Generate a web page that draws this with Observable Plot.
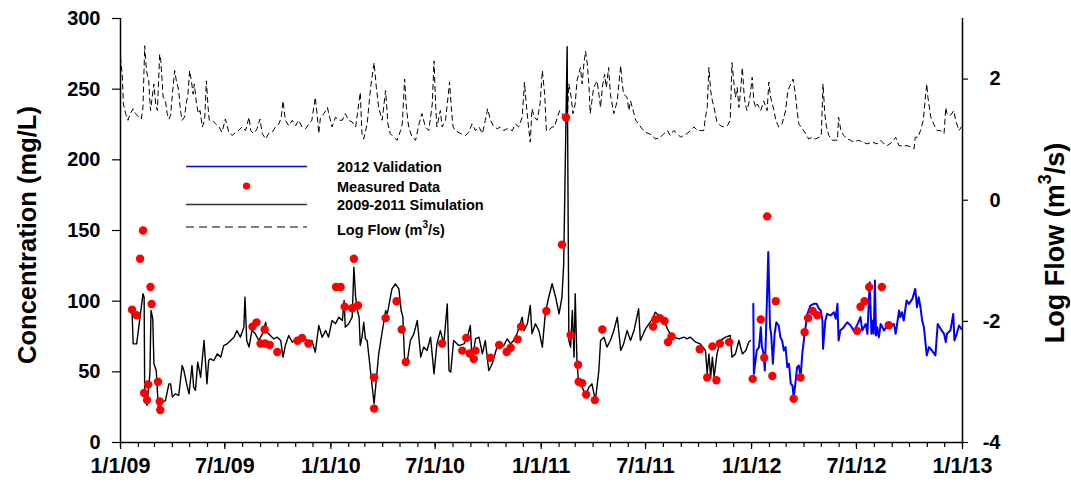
<!DOCTYPE html>
<html>
<head>
<meta charset="utf-8">
<script src="https://cdn.jsdelivr.net/npm/d3@7"></script>
<script src="https://cdn.jsdelivr.net/npm/@observablehq/plot@0.6"></script>
<style>
  html, body { margin: 0; padding: 0; background: #fff; }
  #chart { width: 1071px; height: 489px; }
</style>
</head>
<body>
<div id="chart"></div>
<script>
// Days are counted from 1/1/09.
// 2009-2011 simulated concentration (mg/L)
const simDays = [20,22,28,39,41,42,46,51,53,56,58,62,66,72,78,84,87,90,95,101,107,110,116,119,124,127,130,134,139,145,150,153,156,162,168,174,179,185,191,197,202,208,214,216,219,223,228,234,237,240,246,252,254,260,266,272,278,282,286,292,298,304,309,315,321,327,332,338,344,350,356,361,367,373,379,385,388,390,396,402,405,408,411,414,416,419,422,425,428,440,448,460,463,471,477,483,487,490,493,497,
  503,509,515,521,526,532,538,544,549,555,561,567,570,573,578,587,596,602,607,610,616,622,628,633,639,645,654,659,665,671,677,682,688,697,700,706,711,714,720,726,732,737,743,749,755,761,766,769,775,778,781,784,787,789,792,795,801,807,813,818,824,830,833,839,844,850,856,862,868,873,879,885,891,899,902,911,917,923,928,934,943,949,954,960,969,
  978,983,989,998,1006,1015,1018,1021,1024,1027,1030,1035,1041,1050,1058,1061,1067,1073,1079,1085,1090,1093];
const simConc = [93.4,69.8,69.8,105.2,102.8,34.4,26.2,48.6,93.4,87.5,55.7,50.9,22.6,28.5,29.7,41.5,41.5,32.1,34.4,33.3,54.5,50.9,39.2,34.4,54.5,39.2,36.8,56.8,46.2,72.2,41.5,58.0,59.2,58.0,62.7,60.4,68.6,69.8,72.2,74.5,79.2,74.5,81.6,102.8,72.2,67.5,79.2,76.9,74.5,72.2,76.9,85.1,78.1,75.7,73.3,74.5,72.2,60.4,68.6,75.7,71.0,73.3,74.5,74.5,73.3,71.0,72.2,63.9,82.8,74.5,79.2,74.5,86.3,84.0,88.7,86.3,100.5,81.6,84.0,88.7,124.1,102.8,93.4,88.7,68.6,74.5,85.1,73.3,72.2,27.4,62.7,93.4,91.0,108.7,112.3,108.7,93.4,88.7,58.0,55.7,
  72.2,76.9,86.3,60.4,67.5,65.1,74.5,48.6,69.8,79.2,69.8,98.1,50.9,49.8,72.2,68.6,69.8,74.5,82.8,58.0,73.3,74.5,62.7,72.2,50.9,55.7,68.6,67.5,68.6,73.3,69.8,72.2,76.9,88.7,79.2,84.0,96.9,76.9,84.0,79.2,67.5,91.0,102.8,112.3,102.8,91.0,102.8,126.4,280,72.2,67.5,93.4,60.4,105.2,58.0,41.5,39.2,33.3,39.2,41.5,29.7,50.9,72.2,74.5,67.5,72.2,79.2,88.7,65.1,69.8,79.2,72.2,79.2,94.6,72.2,80.4,84.0,87.5,92.2,89.9,86.3,80.4,76.9,74.5,73.3,
  74.5,73.4,74.5,71.0,69.8,65.1,48.6,62.7,46.2,60.4,46.2,62.7,72.2,74.5,75.7,60.4,62.7,72.2,62.7,65.1,71.0,72.2];

// 2012 validation run (mg/L)
const valDays = [1098,1099,1104,1108,1111,1113,1116,1118,1120,1124,1127,1129,1132,1135,1138,1142,1145,1148,1151,1154,1157,1160,1163,1166,1168,1171,1174,1177,1180,1183,1187,1192,1197,1203,1208,1212,1215,1218,1219,1223,1226,1232,1238,1241,1244,1246,1249,1255,1261,1267,1272,1278,1284,1287,1293,1296,1300,1303,1304,1307,1309,1311,1313,1316,1319,1325,1330,1336,1342,1345,1351,1353,1356,1359,1364,1368,1374,1379,1382,1385,1388,1391,1394,1399,1403,1408,1414,1418,1423,1429,1432,1434,1440,1445,1447,1451,1455,1459];
const valConc = [98.1,48.6,65.1,67.5,81.6,67.5,62.7,50.9,76.9,134.7,81.6,76.9,55.7,76.9,85.1,82.8,74.5,72.2,65.1,67.5,53.3,55.7,41.5,40.3,32.1,41.5,53.3,54.5,46.2,62.7,76.9,91.0,96.9,98.1,98.1,94.6,93.4,86.3,66.3,86.3,91.0,89.9,92.2,87.5,98.1,72.2,79.2,81.6,85.1,82.8,79.2,82.8,88.7,79.2,83.9,76.9,113.4,76.9,86.3,76.9,114.6,75.7,81.6,74.5,83.9,79.2,82.8,81.6,83.9,76.9,93.4,88.7,92.2,86.3,100.5,98.1,101.6,108.7,95.7,102.8,95.7,86.3,81.6,61.6,67.5,65.1,61.6,83.9,80.4,76.9,71.0,76.9,79.2,91.0,72.2,76.9,82.8,80.4];

// Measured concentrations (mg/L)
const obsDays = [20,28,34,39,52,54,41,48,46,65,68,69,229,236,250,243,251,259,272,307,315,326,374,382,389,402,412,405,440,440,460,479,488,495,558,600,593,606,616,613,642,657,670,677,689,695,739,766,773,781,794,795,801,808,823,836,924,928,936,944,950,956,1005,1018,1027,1034,1040,1056,1097,1111,1117,1122,1137,1131,1168,1180,1187,1193,1201,1209,1278,1284,1291,1299,1321,1333];
const obsConc = [94,90,130,150,110,98,35,41,30,43,29,23,82,85,80,70,70,69,64,72,74,70,110,110,96,95,97,130,46,24,88,100,80,57,70,74,65,63,65,59,60,69,64,67,73,82,93,140,230,76,55,43,42,34,30,80,82,87,88,86,71,75,66,46,68,44,70,71,45,87,60,160,100,47,31,46,78,88,93,90,79,96,100,110,110,83];

// Log flow (log10 m3/s)
const flowDays = [0,3,5,9,13,17,22,26,32,36,39,42,45,49,52,55,58,61,64,68,70,74,78,81,84,87,90,94,97,101,104,107,111,114,117,120,123,126,128,132,135,138,142,146,149,152,154,159,165,171,176,182,188,194,200,205,211,217,223,226,231,237,242,246,252,257,263,269,275,279,282,286,292,298,304,309,315,321,327,332,338,341,344,347,353,359,363,367,373,379,385,390,396,402,408,416,419,422,428,434,440,444,448,454,460,464,468,474,480,486,489,493,496,
  500,506,512,518,523,529,535,541,544,547,549,555,558,564,571,574,577,581,590,599,604,610,616,622,628,633,637,642,648,654,659,665,671,680,685,691,697,701,704,708,711,714,718,723,728,732,736,739,743,749,753,758,762,766,770,775,778,782,785,789,792,795,798,801,804,807,810,813,815,818,821,827,830,833,836,840,843,847,850,856,862,865,868,870,873,879,882,885,888,891,894,899,905,911,917,923,928,937,943,949,954,960,966,972,977,983,989,995,1001,1006,
  1012,1015,1018,1021,1024,1027,1030,1032,1035,1041,1047,1053,1058,1061,1064,1067,1070,1073,1076,1079,1082,1084,1087,1090,1093,1096,1099,1102,1105,1111,1116,1122,1125,1128,1131,1134,1137,1142,1148,1154,1158,1163,1167,1171,1174,1177,1183,1189,1194,1200,1206,1212,1216,1219,1222,1225,1229,1235,1244,1246,1250,1255,1261,1267,1272,1281,1287,1296,1304,1313,1319,1325,1330,1339,1345,1351,1356,1365,1371,1377,1379,1384,1388,1393,1396,1399,1401,1406,1411,1417,1423,1429,1432,1434,1440,1446,1449,1455,1459];
const flowLog = [2.36,2.08,1.59,1.43,1.32,1.43,1.51,1.43,1.37,1.34,1.53,2.55,2.14,1.97,1.48,1.70,1.92,1.59,1.48,2.41,2.30,1.70,1.64,1.43,1.34,1.40,1.75,2.14,1.97,1.81,1.48,1.32,1.37,1.59,1.75,2.14,1.97,1.75,1.92,1.59,1.43,1.48,1.21,1.32,1.97,1.53,1.32,1.32,1.26,1.21,1.12,1.34,1.12,1.07,1.12,1.15,1.21,1.15,1.37,1.15,1.10,1.18,1.34,1.10,1.01,1.10,1.12,1.21,1.26,1.37,1.64,1.32,1.23,1.32,1.23,1.32,1.21,1.18,1.26,1.32,1.70,1.43,1.10,1.37,1.43,1.53,1.37,1.21,1.37,1.32,1.32,1.43,1.32,1.29,1.21,1.78,1.10,1.01,1.26,1.86,2.27,1.86,1.53,1.32,1.81,1.26,1.10,1.04,0.99,1.15,1.26,2.00,1.53,
  1.21,1.04,0.99,1.26,1.43,1.21,1.15,1.59,2.30,1.53,1.21,1.48,1.21,1.32,1.95,1.53,1.21,1.15,1.10,1.07,1.12,1.26,1.15,1.21,1.10,1.32,1.51,1.32,1.21,1.18,1.21,1.15,1.18,1.15,1.26,1.21,1.37,1.95,1.59,1.21,0.96,1.51,1.37,1.32,1.59,2.14,1.75,1.15,1.15,1.21,1.21,1.37,1.48,1.43,1.37,1.32,1.92,1.70,1.43,1.59,1.97,2.08,2.19,1.92,2.25,2.46,2.25,1.86,1.43,1.64,1.86,1.97,1.75,1.53,1.86,2.08,1.86,2.19,1.75,1.43,1.64,1.95,2.22,1.97,1.75,1.70,1.48,1.64,1.53,1.43,1.32,1.26,1.18,1.12,1.10,1.07,1.01,1.04,1.10,1.15,1.07,1.15,1.10,1.04,1.07,1.10,1.15,1.21,1.15,1.15,
  1.15,1.37,1.53,2.19,1.81,1.64,1.53,1.43,1.29,1.23,1.21,1.23,1.32,2.27,1.97,1.70,1.86,1.53,1.81,2.19,1.75,1.59,1.48,1.59,1.75,2.03,1.64,1.53,1.59,1.48,1.64,1.48,1.95,1.70,1.59,1.48,1.32,1.21,1.26,1.48,1.81,1.92,2.00,1.75,1.48,1.26,1.18,1.10,1.01,1.04,1.01,1.04,1.07,1.92,1.43,1.21,1.07,0.99,0.99,1.37,1.15,1.07,1.01,0.99,0.96,0.99,0.96,0.93,0.96,0.93,0.99,0.93,0.90,0.96,1.04,0.90,0.90,0.90,0.88,0.85,1.04,1.04,1.15,1.32,1.64,1.92,1.70,1.37,1.26,1.15,1.15,1.10,1.53,1.43,1.40,1.48,1.32,1.15,1.21];

// Axis settings
const concTicks = [0, 50, 100, 150, 200, 250, 300];
const flowTicks = [-4, -2, 0, 2];
const concDomain = [0, 300];
const flowDomain = [-4, 3];
const xLabelFormat = "%-m/%-d/%y";

const start = new Date(Date.UTC(2009, 0, 1));
const end = new Date(Date.UTC(2013, 0, 1));
const toDate = d => d3.utcDay.offset(start, d);

const sim = simDays.map((d, i) => ({date: toDate(d), conc: simConc[i]}));
const val = valDays.map((d, i) => ({date: toDate(d), conc: valConc[i]}));
const obs = obsDays.map((d, i) => ({date: toDate(d), conc: obsConc[i]}));
const flow = flowDays.map((d, i) => ({date: toDate(d), logq: flowLog[i]}));

// Map log flow onto the concentration axis (right axis shares the plot height)
const flowToConc = f => concDomain[0] + (f - flowDomain[0]) * (concDomain[1] - concDomain[0]) / (flowDomain[1] - flowDomain[0]);
const concToFlow = c => flowDomain[0] + (c - concDomain[0]) * (flowDomain[1] - flowDomain[0]) / (concDomain[1] - concDomain[0]);

const majorTicks = d3.utcMonth.every(6).range(start, d3.utcDay.offset(end, 1));
const minorTicks = d3.utcMonth.range(start, d3.utcDay.offset(end, 1));

const FONT = "'Liberation Sans', Arial, Helvetica, sans-serif";

const plot = Plot.plot({
  width: 1071,
  height: 489,
  marginLeft: 120,
  marginRight: 109,
  marginTop: 18,
  marginBottom: 47,
  style: {fontFamily: FONT, fontWeight: "bold", color: "black", background: "white", overflow: "visible"},
  x: {type: "utc", domain: [start, end]},
  y: {domain: concDomain},
  marks: [
    Plot.axisX(minorTicks, {tickSize: 5, tickFormat: () => "", strokeWidth: 1.2}),
    Plot.axisX(majorTicks, {tickSize: 7, tickPadding: 8, tickFormat: d3.utcFormat(xLabelFormat), fontSize: 21.5, strokeWidth: 1.2}),
    Plot.axisY(concTicks, {anchor: "left", tickSize: 8, tickPadding: 12, fontSize: 20, label: null, strokeWidth: 1.2}),
    Plot.axisY(flowTicks.map(flowToConc), {anchor: "right", tickSize: 5, tickPadding: 33, textAnchor: "end", fontSize: 20, label: null,
      tickFormat: c => String(Math.round(concToFlow(c))), strokeWidth: 1.2}),
    Plot.ruleX([start], {stroke: "black", strokeWidth: 1.5}),
    Plot.ruleX([end], {stroke: "black", strokeWidth: 1.5}),
    Plot.ruleY([concDomain[0]], {stroke: "black", strokeWidth: 1.5}),
    Plot.line(flow, {x: "date", y: d => flowToConc(d.logq), stroke: "black", strokeWidth: 1, strokeDasharray: "5,4"}),
    Plot.line(sim, {x: "date", y: "conc", stroke: "black", strokeWidth: 1.4}),
    Plot.line(val, {x: "date", y: "conc", stroke: "#0000ff", strokeWidth: 2}),
    Plot.dot(obs, {x: "date", y: "conc", r: 4.2, fill: "#ff0000", stroke: "none"})
  ]
});

document.getElementById("chart").appendChild(plot);

// Axis titles and in-plot legend
const svg = d3.select(plot);

svg.append("text")
  .attr("transform", "translate(27,235) rotate(-90)")
  .attr("text-anchor", "middle")
  .attr("dominant-baseline", "central")
  .style("font-size", "25.5px").style("font-weight", "bold").style("font-family", FONT)
  .text("Concentration (mg/L)");

const flowTitle = svg.append("text")
  .attr("transform", "translate(1055,243) rotate(-90)")
  .attr("text-anchor", "middle")
  .attr("dominant-baseline", "central")
  .style("font-size", "27px").style("font-weight", "bold").style("font-family", FONT);
flowTitle.append("tspan").text("Log Flow (m");
flowTitle.append("tspan").attr("baseline-shift", "super").style("font-size", "18px").text("3");
flowTitle.append("tspan").text("/s)");

const legend = svg.append("g")
  .attr("text-anchor", "start")
  .style("font-size", "14.5px").style("font-weight", "bold").style("font-family", FONT);
const lx0 = 186, lx1 = 307, tx = 337;
legend.append("line").attr("x1", lx0).attr("x2", lx1).attr("y1", 166.5).attr("y2", 166.5)
  .attr("stroke", "#0000ff").attr("stroke-width", 1.6);
legend.append("circle").attr("cx", (lx0 + lx1) / 2).attr("cy", 186).attr("r", 3.6).attr("fill", "#ff0000");
legend.append("line").attr("x1", lx0).attr("x2", lx1).attr("y1", 204.5).attr("y2", 204.5)
  .attr("stroke", "#333").attr("stroke-width", 1.6);
legend.append("line").attr("x1", lx0).attr("x2", lx1).attr("y1", 227).attr("y2", 227)
  .attr("stroke", "black").attr("stroke-width", 1).attr("stroke-dasharray", "8,5");

const rows = [["2012 Validation", 167], ["Measured Data", 186.5], ["2009-2011 Simulation", 205]];
rows.forEach(([t, y]) => legend.append("text").attr("x", tx).attr("y", y)
  .attr("text-anchor", "start").attr("dominant-baseline", "central").text(t));
const lf = legend.append("text").attr("x", tx).attr("y", 230)
  .attr("text-anchor", "start").attr("dominant-baseline", "central");
lf.append("tspan").text("Log Flow (m");
lf.append("tspan").attr("baseline-shift", "super").style("font-size", "10px").text("3");
lf.append("tspan").text("/s)");
</script>
</body>
</html>
